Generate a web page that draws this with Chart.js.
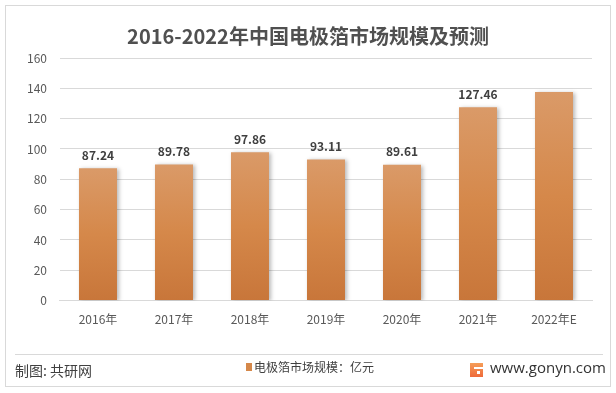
<!DOCTYPE html>
<html>
<head>
<meta charset="utf-8">
<script src="https://cdn.jsdelivr.net/npm/chart.js@4.4.1/dist/chart.umd.min.js"></script>
<style>
  html, body { margin: 0; padding: 0; background: #fff; }
  #wrap { width: 616px; height: 393px; position: relative; }
</style>
</head>
<body>
<div id="wrap"><canvas id="marketChart" width="616" height="393"></canvas></div>
<script>
const categories = ['2016年', '2017年', '2018年', '2019年', '2020年', '2021年', '2022年E'];
const marketSize = [87.24, 89.78, 97.86, 93.11, 89.61, 127.46, 137.5];
const showValue = [true, true, true, true, true, true, false];
const yTicks = [0, 20, 40, 60, 80, 100, 120, 140, 160];

const titleText = '2016-2022年中国电极箔市场规模及预测';
const seriesName = '电极箔市场规模：亿元';
const sourceText = '制图: 共研网';
const siteText = 'www.gonyn.com';

const cjk = '"Noto Sans CJK SC", "Noto Sans", sans-serif';

// bar gradient per bar, light at the top, darker at the base
const barFill = (c) => {
  const chart = c.chart;
  const y = chart.scales.y;
  if (!y || c.raw == null) return '#d58a4e';
  const top = y.getPixelForValue(c.raw);
  const base = y.getPixelForValue(0);
  if (!isFinite(top) || !isFinite(base) || top === base) return '#d58a4e';
  const g = chart.ctx.createLinearGradient(0, top, 0, base);
  g.addColorStop(0, '#da9a68');
  g.addColorStop(0.5, '#d5884a');
  g.addColorStop(1, '#c8763a');
  return g;
};

const frame = {
  id: 'frame',
  beforeDraw(chart) {
    const ctx = chart.ctx;
    ctx.save();
    ctx.fillStyle = '#fff';
    ctx.fillRect(0, 0, chart.width, chart.height);
    ctx.strokeStyle = '#d9d9d9';
    ctx.lineWidth = 1;
    ctx.strokeRect(5.5, 5.5, 605, 381);
    // separator above footer
    ctx.beginPath();
    ctx.moveTo(15, 354.5);
    ctx.lineTo(603, 354.5);
    ctx.stroke();
    ctx.restore();
  },
  beforeDatasetsDraw(chart) {
    const ctx = chart.ctx;
    ctx.save();
    ctx.shadowColor = 'rgba(0,0,0,0.28)';
    ctx.shadowBlur = 4;
    ctx.shadowOffsetX = 2;
    ctx.shadowOffsetY = 1;
  },
  afterDatasetsDraw(chart) {
    chart.ctx.restore();
  },
  afterDraw(chart) {
    const ctx = chart.ctx;
    ctx.save();
    // title
    ctx.fillStyle = '#505050';
    ctx.font = 'bold 20px ' + cjk;
    ctx.textAlign = 'center';
    ctx.textBaseline = 'middle';
    ctx.fillText(titleText, 308, 36);

    // value labels
    ctx.fillStyle = '#404040';
    ctx.font = 'bold 12px ' + cjk;
    const meta = chart.getDatasetMeta(0);
    meta.data.forEach((bar, i) => {
      if (!showValue[i]) return;
      ctx.fillText(marketSize[i].toFixed(2), bar.x, bar.y - 13);
    });

    // footer: source
    ctx.textAlign = 'left';
    ctx.fillStyle = '#404040';
    ctx.font = '14px ' + cjk;
    ctx.fillText(sourceText, 15, 371);

    // legend
    ctx.fillStyle = '#d5884a';
    ctx.fillRect(246, 363, 6, 8);
    ctx.fillStyle = '#404040';
    ctx.font = '12px ' + cjk;
    ctx.fillText(seriesName, 254, 367);

    // logo + site
    const g = ctx.createLinearGradient(0, 362, 0, 377);
    g.addColorStop(0, '#f6a15a');
    g.addColorStop(1, '#ee6a3a');
    ctx.fillStyle = g;
    ctx.fillRect(470, 363, 13, 14);
    ctx.fillStyle = '#fff';
    ctx.fillRect(474, 367, 9, 2);
    ctx.fillRect(477, 371, 3, 3);
    ctx.fillStyle = '#333333';
    ctx.font = '15px "Open Sans", sans-serif';
    ctx.fillText(siteText, 490, 369);
    ctx.restore();
  }
};

new Chart(document.getElementById('marketChart'), {
  type: 'bar',
  data: {
    labels: categories,
    datasets: [{
      label: seriesName,
      data: marketSize,
      backgroundColor: barFill,
      borderWidth: 0,
      barPercentage: 0.5,
      categoryPercentage: 1
    }]
  },
  options: {
    responsive: false,
    animation: false,
    devicePixelRatio: 1,
    layout: { padding: { left: 14, right: 24, top: 58, bottom: 54 } },
    plugins: {
      legend: { display: false },
      tooltip: { enabled: false }
    },
    scales: {
      x: {
        grid: { display: false, drawTicks: false },
        border: { display: true, color: '#d9d9d9' },
        ticks: { color: '#595959', font: { family: cjk, size: 12 }, padding: 12, maxRotation: 0 }
      },
      y: {
        min: 0,
        max: 160,
        afterBuildTicks(axis) { axis.ticks = yTicks.map(v => ({ value: v })); },
        grid: { color: '#d9d9d9', drawTicks: false },
        border: { display: false },
        ticks: { color: '#595959', font: { family: cjk, size: 12 }, padding: 13 }
      }
    }
  },
  plugins: [frame]
});
</script>
</body>
</html>
